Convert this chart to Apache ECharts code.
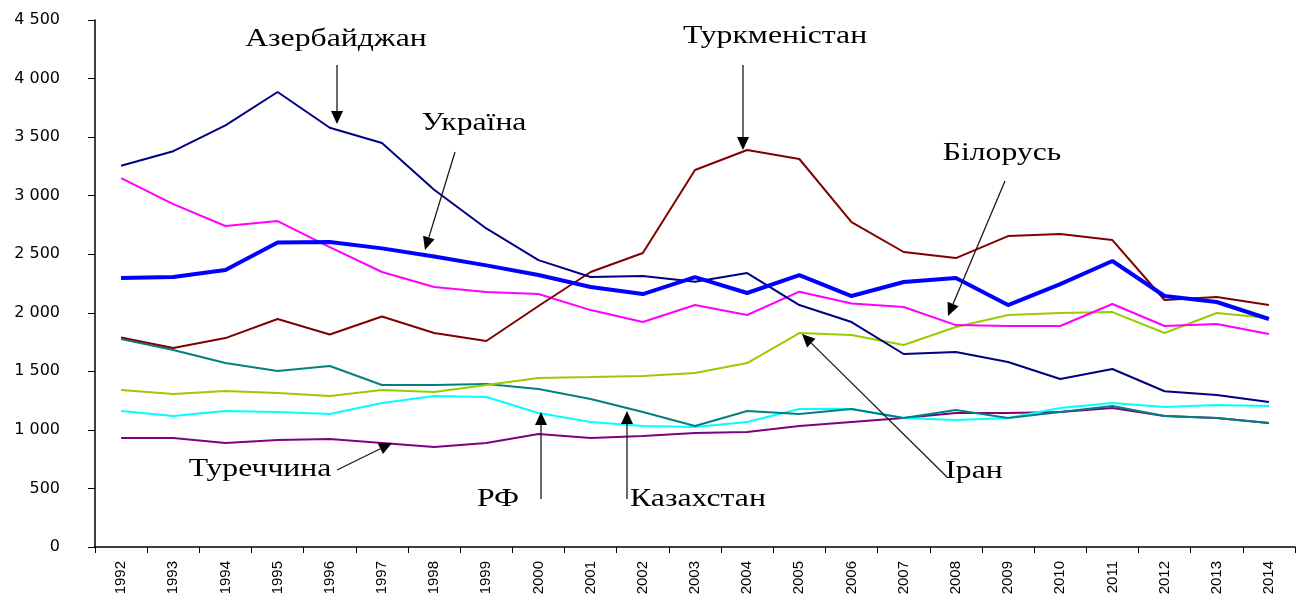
<!DOCTYPE html>
<html>
<head>
<meta charset="utf-8">
<script src="https://cdn.jsdelivr.net/npm/echarts@6/dist/echarts.min.js"></script>
<style>
  html, body { margin: 0; padding: 0; background: #fff; }
  #chart { width: 1299px; height: 606px; }
</style>
</head>
<body>
<div id="chart"></div>
<script>
// роки
const years = ['1992', '1993', '1994', '1995', '1996', '1997', '1998', '1999', '2000', '2001', '2002',
  '2003', '2004', '2005', '2006', '2007', '2008', '2009', '2010', '2011', '2012', '2013', '2014'];

const azerbaijan = [3255, 3380, 3600, 3885, 3580, 3450, 3050, 2720, 2450, 2305, 2314, 2265, 2339, 2066, 1921, 1648, 1665, 1580, 1434, 1520, 1330, 1298, 1238];
const ukraine = [2297, 2305, 2365, 2600, 2604, 2550, 2480, 2405, 2322, 2220, 2160, 2305, 2169, 2322, 2143, 2263, 2297, 2066, 2245, 2442, 2143, 2092, 1947];
const turkmenistan = [1790, 1700, 1784, 1947, 1815, 1968, 1827, 1759, 2058, 2348, 2510, 3219, 3390, 3313, 2775, 2519, 2467, 2655, 2672, 2621, 2109, 2134, 2066];
const belarus = [3150, 2928, 2741, 2783, 2561, 2348, 2220, 2177, 2160, 2023, 1921, 2066, 1981, 2180, 2080, 2049, 1895, 1887, 1887, 2075, 1887, 1904, 1819];
const kazakhstan = [1776, 1682, 1571, 1503, 1545, 1383, 1383, 1392, 1349, 1264, 1153, 1033, 1161, 1136, 1178, 1101, 1170, 1101, 1153, 1204, 1118, 1101, 1059];
const iran = [1340, 1306, 1332, 1315, 1289, 1340, 1323, 1383, 1443, 1451, 1460, 1486, 1571, 1827, 1810, 1725, 1878, 1981, 1998, 2006, 1827, 1998, 1955];
const russia = [1161, 1118, 1161, 1153, 1136, 1229, 1289, 1281, 1144, 1067, 1033, 1025, 1067, 1178, 1178, 1101, 1084, 1101, 1187, 1229, 1195, 1212, 1204];
const turkey = [931, 931, 888, 914, 922, 888, 854, 888, 965, 931, 948, 973, 982, 1033, 1067, 1101, 1144, 1144, 1153, 1187, 1118, 1101, 1059];

const seriesList = [
  { name: 'Туреччина', data: turkey, color: '#800080', width: 2 },
  { name: 'РФ', data: russia, color: '#00ffff', width: 2 },
  { name: 'Казахстан', data: kazakhstan, color: '#008080', width: 2 },
  { name: 'Іран', data: iran, color: '#99cc00', width: 2 },
  { name: 'Білорусь', data: belarus, color: '#ff00ff', width: 2 },
  { name: 'Туркменістан', data: turkmenistan, color: '#800000', width: 2 },
  { name: 'Азербайджан', data: azerbaijan, color: '#000080', width: 2 },
  { name: 'Україна', data: ukraine, color: '#0000ff', width: 4 }
];

// підписи зі стрілками (пікселі)
const notes = [
  { text: 'Азербайджан', x: 336, y: 39, from: [337, 65], to: [337, 124] },
  { text: 'Україна', x: 474, y: 123, from: [455, 152], to: [425, 250] },
  { text: 'Туркменістан', x: 775, y: 36, from: [743, 65], to: [743, 150] },
  { text: 'Білорусь', x: 1002, y: 153, from: [1005, 181], to: [948, 316] },
  { text: 'Іран', x: 974, y: 471, from: [947, 477], to: [802, 334] },
  { text: 'Туреччина', x: 260, y: 469, from: [337, 470], to: [392, 443] },
  { text: 'РФ', x: 498, y: 499, from: [541, 499], to: [541, 412] },
  { text: 'Казахстан', x: 698, y: 499, from: [627, 499], to: [627, 411] }
];

function arrowGraphics(n) {
  const [x1, y1] = n.from;
  const [x2, y2] = n.to;
  const a = Math.atan2(y2 - y1, x2 - x1);
  const len = 13, half = 6;
  const bx = x2 - len * Math.cos(a), by = y2 - len * Math.sin(a);
  const px = -Math.sin(a) * half, py = Math.cos(a) * half;
  return [
    {
      type: 'line',
      shape: { x1: x1, y1: y1, x2: bx, y2: by },
      style: { stroke: '#1a1a1a', lineWidth: 1.3 },
      z: 100
    },
    {
      type: 'polygon',
      shape: { points: [[x2, y2], [bx + px, by + py], [bx - px, by - py]] },
      style: { fill: '#000' },
      z: 100
    },
    {
      type: 'text',
      x: n.x,
      y: n.y,
      scaleX: 1.22,
      style: {
        text: n.text,
        fill: '#000',
        font: '26px "Liberation Serif", "Times New Roman", serif',
        align: 'center',
        verticalAlign: 'middle'
      },
      z: 100
    }
  ];
}

const chart = echarts.init(document.getElementById('chart'));
const option = {
  animation: false,
  grid: { left: 95, right: 4, top: 20, bottom: 59 },
  xAxis: {
    type: 'category',
    data: years,
    boundaryGap: true,
    axisLine: { lineStyle: { color: '#000', width: 1.5 } },
    axisTick: { show: true, length: 6, lineStyle: { color: '#000' } },
    axisLabel: {
      rotate: 90,
      interval: 0,
      color: '#000',
      fontFamily: 'Liberation Sans, Arial',
      fontSize: 15,
      margin: 14
    }
  },
  yAxis: {
    type: 'value',
    min: 0,
    max: 4500,
    interval: 500,
    splitLine: { show: false },
    axisLine: { show: true, lineStyle: { color: '#000', width: 1.5 } },
    axisTick: { show: true, length: 7, lineStyle: { color: '#000' } },
    axisLabel: {
      color: '#000',
      fontFamily: 'DejaVu Sans',
      fontSize: 16,
      margin: 35,
      formatter: (v) => String(v).replace(/\B(?=(\d{3})+(?!\d))/g, ' ')
    }
  },
  series: seriesList.map((s) => ({
    name: s.name,
    type: 'line',
    data: s.data,
    symbol: 'none',
    lineStyle: { color: s.color, width: s.width },
    itemStyle: { color: s.color }
  })),
  graphic: notes.flatMap(arrowGraphics)
};
chart.setOption(option);
</script>
</body>
</html>
